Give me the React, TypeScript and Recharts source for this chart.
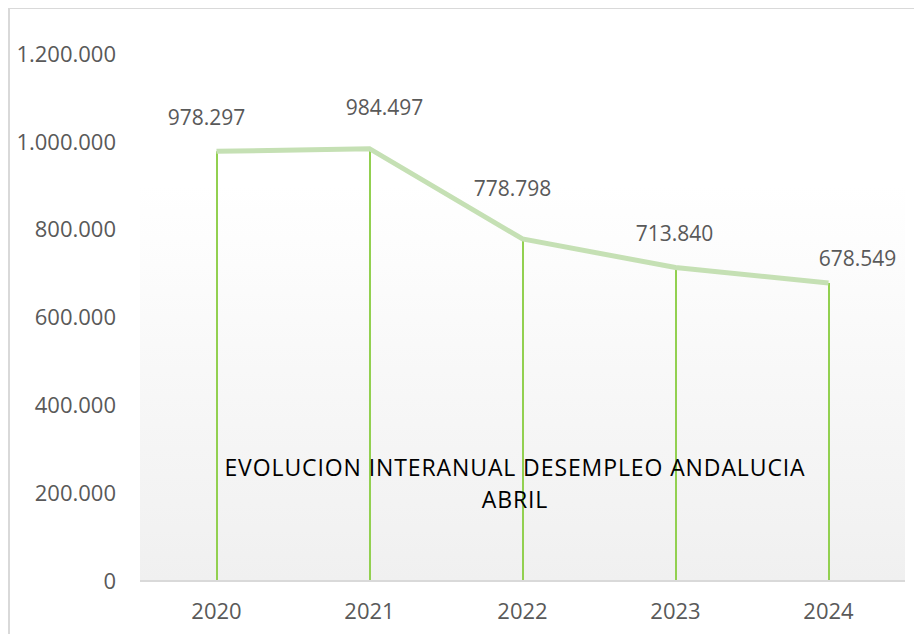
import React from 'react';
import { ComposedChart, Line, Bar, XAxis, YAxis, CartesianGrid, LabelList } from 'recharts';

const years = ['2020', '2021', '2022', '2023', '2024'];
const parados = [978297, 984497, 778798, 713840, 678549];
const yTicks = [0, 200000, 400000, 600000, 800000, 1000000, 1200000];
const titleLines = ['EVOLUCION INTERANUAL DESEMPLEO ANDALUCIA', 'ABRIL'];

// hand-placed data labels in the original (dx, dy from the point, px)
const labelShift = [
  [-10, -34],
  [15, -42],
  [-10, -51],
  [-1, -35],
  [29, -25],
];

const data = years.map((year, i) => ({ year, parados: parados[i] }));

// thousands with a dot, as in the Spanish source
const fmt = (v: number) => String(Math.round(v)).replace(/\B(?=(\d{3})+(?!\d))/g, '.');

const font = '"Open Sans", sans-serif';

const renderLabel = (props: any) => {
  const { x, y, value, index } = props;
  const [dx, dy] = labelShift[index] || [0, -30];
  return (
    <text
      x={x + dx}
      y={y + dy}
      textAnchor="middle"
      dominantBaseline="central"
      fill="#595959"
      fontSize={21}
      fontFamily={font}
    >
      {fmt(Number(value))}
    </text>
  );
};

export default function App() {
  return (
    <div
      style={{
        position: 'relative',
        width: 930,
        height: 640,
        border: '2px solid #d9d9d9',
        borderRight: 'none',
        borderBottom: 'none',
        marginTop: -1,
        background: '#fff',
        fontFamily: font,
      }}
    >
      <ComposedChart
        width={928}
        height={630}
        data={data}
        margin={{ top: 45, right: 33, left: 0, bottom: 28 }}
      >
        <defs>
          <linearGradient id="plotBg" x1="0" y1="0" x2="0" y2="1">
            <stop offset="0%" stopColor="#ffffff" />
            <stop offset="25%" stopColor="#ffffff" />
            <stop offset="100%" stopColor="#f0f0f0" />
          </linearGradient>
        </defs>
        <CartesianGrid horizontal={false} vertical={false} fill="url(#plotBg)" fillOpacity={1} />
        <XAxis
          dataKey="year"
          axisLine={{ stroke: '#d9d9d9', strokeWidth: 2 }}
          tickLine={false}
          tick={{ fill: '#595959', fontSize: 22, fontFamily: font }}
          tickMargin={16}
        />
        <YAxis
          domain={[0, 1200000]}
          ticks={yTicks}
          tickFormatter={fmt}
          axisLine={false}
          tickLine={false}
          width={130}
          tickMargin={18}
          tick={{ fill: '#595959', fontSize: 22, fontFamily: font }}
        />
        <Bar dataKey="parados" barSize={2} fill="#92d050" isAnimationActive={false} />
        <Line
          dataKey="parados"
          type="linear"
          stroke="#c5e0b4"
          strokeWidth={5}
          dot={false}
          activeDot={false}
          isAnimationActive={false}
        >
          <LabelList dataKey="parados" content={renderLabel} />
        </Line>
      </ComposedChart>
      <div
        style={{
          position: 'absolute',
          left: 205,
          width: 600,
          top: 443,
          textAlign: 'center',
          fontSize: 23,
          color: '#000',
          letterSpacing: 0.9,
          fontFamily: font,
        }}
      >
        {titleLines.map((t) => (
          <div key={t} style={{ height: 31.5, lineHeight: '31.5px' }}>
            {t}
          </div>
        ))}
      </div>
    </div>
  );
}
